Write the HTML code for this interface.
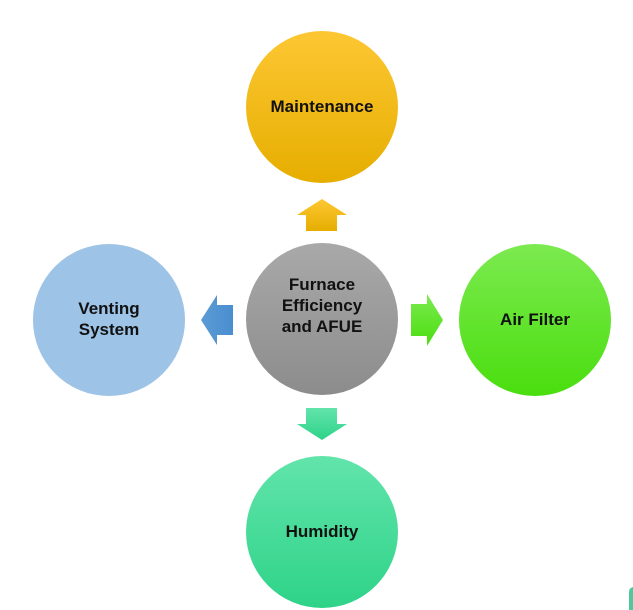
<!DOCTYPE html>
<html><head><meta charset="utf-8"><style>
html,body{margin:0;padding:0;background:#fff;width:633px;height:610px;overflow:hidden}
text{font-family:"Liberation Sans",sans-serif;font-weight:bold;font-size:17px;fill:#111;text-anchor:middle}
</style></head><body>
<svg width="633" height="610" viewBox="0 0 633 610" xmlns="http://www.w3.org/2000/svg">
<defs>
<linearGradient id="gy" x1="0" y1="0" x2="0" y2="1"><stop offset="0" stop-color="#fdc733"/><stop offset="1" stop-color="#e6ae00"/></linearGradient>
<linearGradient id="gg" x1="0" y1="0" x2="0" y2="1"><stop offset="0" stop-color="#a9a9a9"/><stop offset="1" stop-color="#8c8c8c"/></linearGradient>
<linearGradient id="gl" x1="0" y1="0" x2="0" y2="1"><stop offset="0" stop-color="#7cea50"/><stop offset="1" stop-color="#4ade0e"/></linearGradient>
<linearGradient id="gt" x1="0" y1="0" x2="0" y2="1"><stop offset="0" stop-color="#62e4ab"/><stop offset="1" stop-color="#2ed388"/></linearGradient>
<linearGradient id="gb" x1="0" y1="0" x2="1" y2="0"><stop offset="0" stop-color="#5b9bd5"/><stop offset="1" stop-color="#4a8ed0"/></linearGradient>
</defs>
<circle cx="322" cy="107" r="76" fill="url(#gy)"/>
<circle cx="322" cy="319" r="76" fill="url(#gg)"/>
<circle cx="109" cy="320" r="76" fill="#9dc3e6"/>
<circle cx="535" cy="320" r="76" fill="url(#gl)"/>
<circle cx="322" cy="532" r="76" fill="url(#gt)"/>
<polygon points="322,199 347,215 337,215 337,231 306,231 306,215 297,215" fill="url(#gy)"/>
<polygon points="201,320 217,295 217,305 233,305 233,335 217,335 217,345" fill="url(#gb)"/>
<polygon points="443,320 427,294 427,304 411,304 411,336 427,336 427,346" fill="url(#gl)"/>
<polygon points="322,440 347,424 337,424 337,408 306,408 306,424 297,424" fill="url(#gt)"/>
<path d="M629,610 L629,592 Q629,588 633,587 L633,610 Z" fill="#4dc99a"/>
<text x="322" y="112">Maintenance</text>
<text x="322" y="290">Furnace</text>
<text x="322" y="311">Efficiency</text>
<text x="322" y="332">and AFUE</text>
<text x="109" y="314">Venting</text>
<text x="109" y="335">System</text>
<text x="535" y="325">Air Filter</text>
<text x="322" y="537">Humidity</text>
</svg>
</body></html>
